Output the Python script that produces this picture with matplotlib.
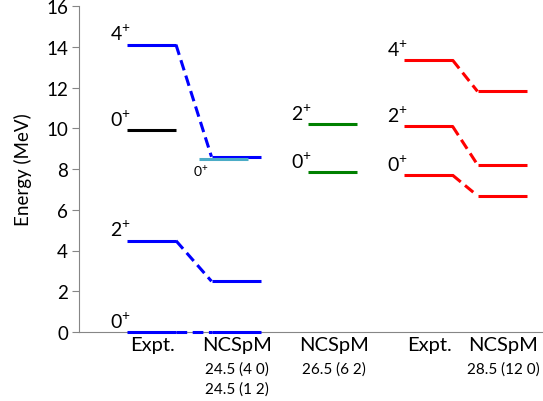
import matplotlib
matplotlib.use("Agg")
import matplotlib.pyplot as plt

plt.rcParams["font.family"] = ["Lato", "DejaVu Sans"]
plt.rcParams["mathtext.fontset"] = "custom"
plt.rcParams["mathtext.rm"] = "Lato"

# column centres (x units, 1 unit ~ one level width)
col_x = [1.45, 3.14, 5.07, 6.98, 8.46]
half_w = 0.49

# levels: (spin label, expt energy, ncspm energy)
blue_labels = ["0", "2", "4"]
blue_expt = [0.0, 4.48, 14.1]
blue_ncspm = [0.0, 2.49, 8.6]
black_label = "0"
black_expt = 9.9
cyan_label = "0"
cyan_e = 8.5
cyan_x = 2.89
green_labels = ["0", "2"]
green_ncspm = [7.85, 10.19]
red_labels = ["0", "2", "4"]
red_expt = [7.7, 10.1, 13.35]
red_ncspm = [6.69, 8.21, 11.81]

col_names = ["Expt.", "NCSpM", "NCSpM", "Expt.", "NCSpM"]
col_sub = [[], ["24.5 (4 0)", "24.5 (1 2)"], ["26.5 (6 2)"], [], ["28.5 (12 0)"]]

fig = plt.figure(figsize=(5.43, 4.02), dpi=100)
ax = fig.add_axes([79 / 543, 1 - 333 / 402, 1 - 79 / 543, (333 - 7) / 402])
ax.set_xlim(0, 9.28)
ax.set_ylim(0, 16)

gray = "#868686"
for s in ["top", "right"]:
    ax.spines[s].set_visible(False)
ax.spines["left"].set_color(gray)
ax.spines["bottom"].set_color(gray)
ax.set_xticks([])
ax.set_yticks(range(0, 17, 2))
ax.tick_params(axis="y", direction="out", length=5, color=gray, labelsize=13.5, pad=3)
ax.set_ylabel("Energy (MeV)", fontsize=13.5, labelpad=10)

lw = 2.2


def level(xc, e, color):
    ax.plot([xc - half_w, xc + half_w], [e, e], color=color, lw=lw,
            solid_capstyle="butt", clip_on=False, zorder=3)


def link(x1, e1, x2, e2, color):
    ax.plot([x1 + half_w, x2 - half_w], [e1, e2], color=color, lw=lw,
            ls=(0, (3.5, 1.8)), clip_on=False, zorder=3)


def spin(xc, e, lab):
    ax.annotate(lab + "$^{+}$", (xc - half_w, e), xytext=(3, 1),
                textcoords="offset points", ha="right", va="bottom", fontsize=14)


# blue band
for lab, e1, e2 in zip(blue_labels, blue_expt, blue_ncspm):
    level(col_x[0], e1, "#0000FF")
    level(col_x[1], e2, "#0000FF")
    link(col_x[0], e1, col_x[1], e2, "#0000FF")
    spin(col_x[0], e1, lab)

level(col_x[0], black_expt, "black")
spin(col_x[0], black_expt, black_label)

level(cyan_x, cyan_e, "#4BACC6")
ax.annotate(cyan_label + "$^{+}$", (cyan_x - half_w, cyan_e), xytext=(-4, -2),
            textcoords="offset points", ha="left", va="top", fontsize=10)

for lab, e in zip(green_labels, green_ncspm):
    level(col_x[2], e, "#008000")
    spin(col_x[2], e, lab)

for lab, e1, e2 in zip(red_labels, red_expt, red_ncspm):
    level(col_x[3], e1, "#FF0000")
    level(col_x[4], e2, "#FF0000")
    link(col_x[3], e1, col_x[4], e2, "#FF0000")
    spin(col_x[3], e1, lab)

# category labels
for xc, name, subs in zip(col_x, col_names, col_sub):
    ax.annotate(name, (xc, 0), xycoords=("data", "axes fraction"), xytext=(1, -3),
                textcoords="offset points", ha="center", va="top", fontsize=14.5)
    for i, s in enumerate(subs):
        ax.annotate(s, (xc, 0), xycoords=("data", "axes fraction"),
                    xytext=(1, -21 - 14.5 * i), textcoords="offset points",
                    ha="center", va="top", fontsize=11)

fig.savefig("out.png", dpi=100)
